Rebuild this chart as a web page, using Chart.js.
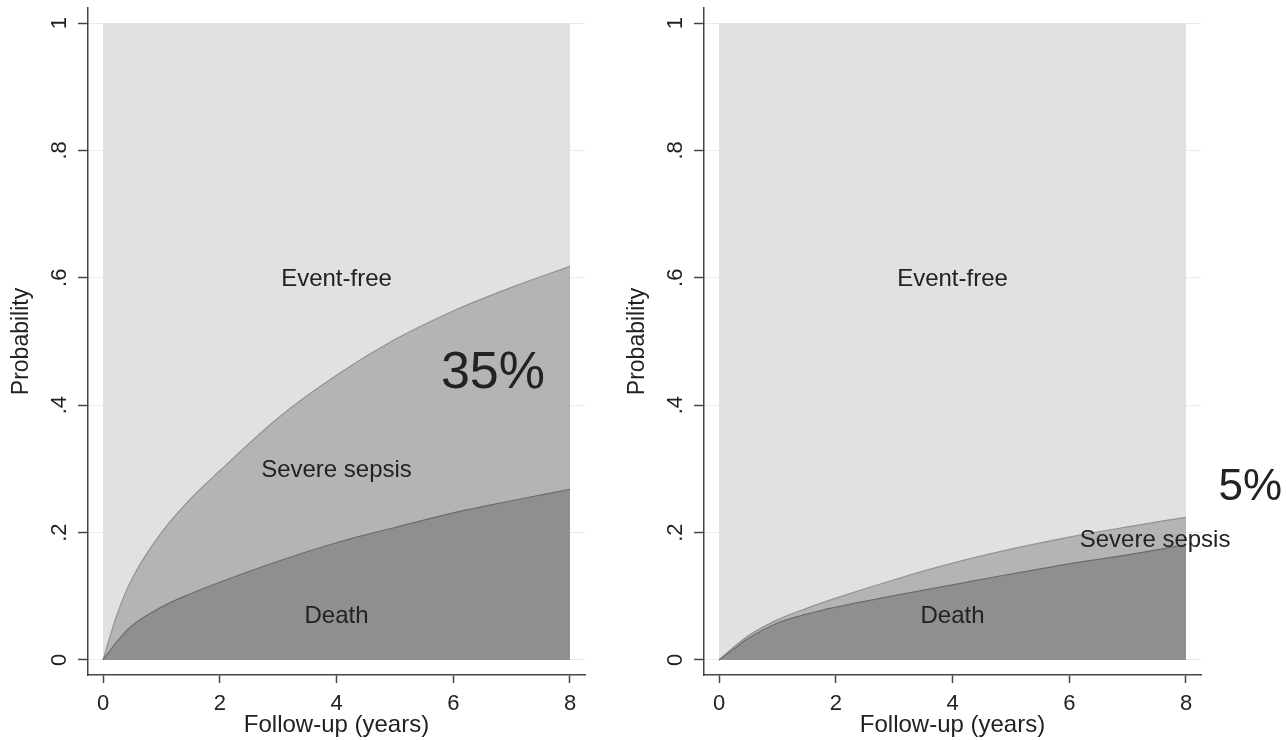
<!DOCTYPE html>
<html>
<head>
<meta charset="utf-8">
<script src="https://cdn.jsdelivr.net/npm/chart.js@4.4.1/dist/chart.umd.min.js"></script>
<style>
  body { margin: 0; background: #fff; width: 1286px; height: 740px; position: relative; overflow: hidden; }
  canvas { position: absolute; top: 0; }
  #leftChart { left: 0; }
  #rightChart { left: 616px; }
</style>
</head>
<body>
<canvas id="leftChart" width="640" height="740"></canvas>
<canvas id="rightChart" width="670" height="740"></canvas>
<script>
// ── Data ────────────────────────────────────────────────────
const years = [0, 0.25, 0.5, 1, 1.5, 2, 3, 4, 5, 6, 7, 8];

// cumulative probability: death, and death + severe sepsis
const leftDeath          = [0, 0.030, 0.054, 0.083, 0.104, 0.122, 0.155, 0.184, 0.208, 0.231, 0.250, 0.268];
const leftDeathOrSepsis  = [0, 0.074, 0.128, 0.200, 0.253, 0.297, 0.380, 0.447, 0.503, 0.548, 0.585, 0.618];
const rightDeath         = [0, 0.017, 0.034, 0.058, 0.072, 0.083, 0.101, 0.118, 0.135, 0.151, 0.165, 0.181];
const rightDeathOrSepsis = [0, 0.020, 0.038, 0.063, 0.081, 0.097, 0.126, 0.152, 0.174, 0.193, 0.209, 0.224];

const xTicks = [0, 2, 4, 6, 8];
const yTicks = [0, 0.2, 0.4, 0.6, 0.8, 1];
const yTickLabels = ['0', '.2', '.4', '.6', '.8', '1'];

const xTitle = 'Follow-up (years)';
const yTitle = 'Probability';

// ── Styles ──────────────────────────────────────────────────
const FONT = "'Liberation Sans', Arial, sans-serif";
const INK = '#222';
const AXIS = '#444';

const leftNotes = [
  { text: 'Event-free',    x: 4,    y: 0.597, size: 24 },
  { text: 'Severe sepsis', x: 4,    y: 0.298, size: 24 },
  { text: 'Death',         x: 4,    y: 0.068, size: 24 },
  { text: '35%',           x: 6.68, y: 0.45,  size: 52 },
];
const rightNotes = [
  { text: 'Event-free',    x: 4,    y: 0.597, size: 24 },
  { text: 'Severe sepsis', x: 7.47, y: 0.188, size: 24 },
  { text: 'Death',         x: 4,    y: 0.068, size: 24 },
  { text: '5%',            x: 9.1,  y: 0.27,  size: 44 },
];

const notesPlugin = {
  id: 'notes',
  afterDraw(chart, args, opts) {
    const { ctx, scales: { x, y }, chartArea } = chart;
    ctx.save();
    ctx.fillStyle = INK;
    ctx.textAlign = 'center';
    ctx.textBaseline = 'middle';
    // rotated y tick labels (Stata style)
    ctx.font = '22px ' + FONT;
    yTicks.forEach((v, i) => {
      ctx.save();
      ctx.translate(chartArea.left - 28, y.getPixelForValue(v));
      ctx.rotate(-Math.PI / 2);
      ctx.fillText(yTickLabels[i], 0, 0);
      ctx.restore();
    });
    opts.notes.forEach(n => {
      ctx.font = n.size + 'px ' + FONT;
      ctx.fillText(n.text, x.getPixelForValue(n.x), y.getPixelForValue(n.y));
    });
    ctx.restore();
  }
};

function series(vals) {
  return years.map((t, i) => ({ x: t, y: vals[i] }));
}

function makePanel(id, death, deathOrSepsis, notes, rightPad) {
  return new Chart(document.getElementById(id), {
    type: 'line',
    data: {
      datasets: [
        { label: 'Death', data: series(death), fill: 'origin',
          backgroundColor: '#8f8f8f', borderColor: '#6c6c6c', borderWidth: 1.2 },
        { label: 'Severe sepsis', data: series(deathOrSepsis), fill: '-1',
          backgroundColor: '#b4b4b4', borderColor: '#929292', borderWidth: 1.2 },
        { label: 'Event-free', data: series(years.map(() => 1)), fill: '-1',
          backgroundColor: '#e1e1e1', borderWidth: 0 },
      ]
    },
    options: {
      responsive: false, animation: false, devicePixelRatio: 1,
      layout: { padding: { top: 8, right: rightPad, left: 0, bottom: 0 } },
      elements: { point: { radius: 0 }, line: { cubicInterpolationMode: 'monotone' } },
      plugins: { legend: { display: false }, tooltip: { enabled: false }, notes: { notes } },
      scales: {
        x: {
          type: 'linear', min: -0.257, max: 8.257,
          afterBuildTicks: s => { s.ticks = xTicks.map(v => ({ value: v })); },
          afterFit: s => { s.height = 65; },
          ticks: { callback: v => String(v), font: { family: FONT, size: 22 }, color: INK, padding: 8, maxRotation: 0, autoSkip: false },
          grid: { drawOnChartArea: false, tickLength: 8, tickColor: AXIS, tickWidth: 1.5 },
          border: { color: AXIS, width: 1.5 },
          title: { display: true, text: xTitle, font: { family: FONT, size: 24 }, color: INK, padding: { top: 0, bottom: 0 } },
        },
        y: {
          type: 'linear', min: -0.0236, max: 1.0236,
          afterBuildTicks: s => { s.ticks = yTicks.map(v => ({ value: v })); },
          afterFit: s => { s.width = 88; },
          ticks: { display: false },
          grid: { color: '#ececec', tickLength: 10, tickColor: AXIS, tickWidth: 1.5 },
          border: { color: AXIS, width: 1.5 },
          title: { display: true, text: yTitle, font: { family: FONT, size: 23 }, color: INK, padding: { top: 8, bottom: 0 } },
        }
      }
    },
    plugins: [notesPlugin]
  });
}

makePanel('leftChart', leftDeath, leftDeathOrSepsis, leftNotes, 55);
makePanel('rightChart', rightDeath, rightDeathOrSepsis, rightNotes, 85);
</script>
</body>
</html>
